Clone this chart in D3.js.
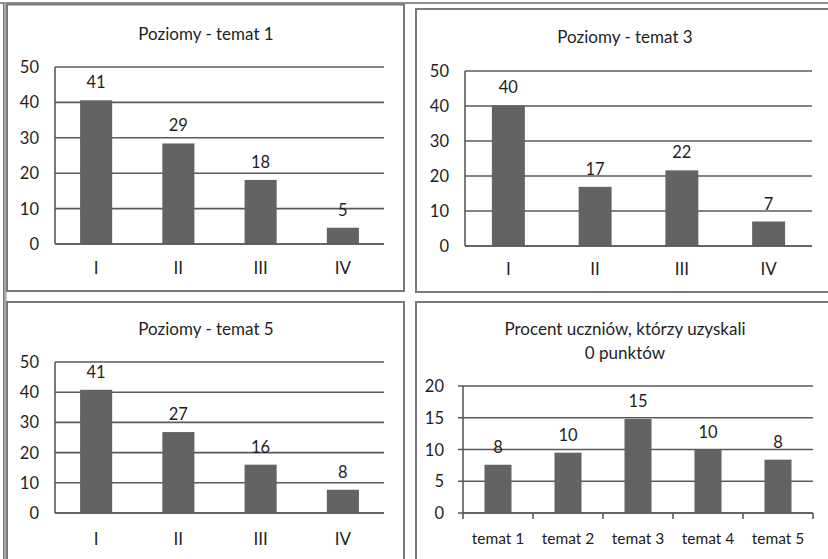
<!DOCTYPE html>
<html>
<head>
<meta charset="utf-8">
<script src="https://cdn.jsdelivr.net/npm/d3@7/dist/d3.min.js"></script>
<style>
  html, body { margin: 0; padding: 0; background: #fff; }
  svg { display: block; }
  text { font-family: Lato, "Open Sans", sans-serif; fill: #1e1e1e; }
</style>
</head>
<body>
<svg id="chart" width="828" height="559"></svg>
<script>
// ---- data ----
const levelCategories = ["I", "II", "III", "IV"];
const temat1Values = [40.6, 28.4, 18.1, 4.6];
const temat1Labels = ["41", "29", "18", "5"];
const temat3Values = [40.2, 16.9, 21.6, 7.0];
const temat3Labels = ["40", "17", "22", "7"];
const temat5Values = [40.8, 26.8, 16.0, 7.7];
const temat5Labels = ["41", "27", "16", "8"];
const topicCategories = ["temat 1", "temat 2", "temat 3", "temat 4", "temat 5"];
const zeroPointValues = [7.6, 9.5, 14.8, 10.0, 8.4];
const zeroPointLabels = ["8", "10", "15", "10", "8"];
const levelTicks = [0, 10, 20, 30, 40, 50];
const zeroTicks = [0, 5, 10, 15, 20];
const titles = ["Poziomy - temat 1", "Poziomy - temat 3", "Poziomy - temat 5",
                "Procent uczniów, którzy uzyskali", "0 punktów"];

const svg = d3.select("#chart");
const gridColor = "#5a5a5a";
const barColor = "#636363";
const frameColor = "#7a7a7a";

// page-level lines
svg.append("line").attr("x1", 0).attr("x2", 828).attr("y1", 3).attr("y2", 3)
  .attr("stroke", "#6a6a6a").attr("stroke-width", 1.5);
svg.append("line").attr("x1", 5).attr("x2", 5).attr("y1", 3).attr("y2", 559)
  .attr("stroke", "#a8a8a8").attr("stroke-width", 3);
svg.append("line").attr("x1", 3.5).attr("x2", 3.5).attr("y1", 3).attr("y2", 559)
  .attr("stroke", "#777").attr("stroke-width", 1);

function frame(x0, y0, x1, y1) {
  svg.append("rect").attr("x", x0).attr("y", y0)
    .attr("width", x1 - x0).attr("height", y1 - y0)
    .attr("fill", "none").attr("stroke", frameColor).attr("stroke-width", 2);
}
frame(7, 4.5, 404, 291);
frame(416, 9, 832, 292);
frame(7, 302, 404, 562);
frame(416, 302, 832, 562);

function panel(cfg) {
  const g = svg.append("g");
  const x = d3.scaleBand().domain(cfg.categories)
    .range([cfg.left, cfg.right])
    .paddingInner(cfg.pad).paddingOuter(cfg.pad / 2);
  const y = d3.scaleLinear().domain([0, cfg.max]).range([cfg.zeroY, cfg.topY]);

  // title
  cfg.title.forEach((t, i) => {
    g.append("text").attr("x", cfg.titleX).attr("y", cfg.titleY + i * 24)
      .attr("text-anchor", "middle").attr("dominant-baseline", "central")
      .attr("font-size", 17).text(t);
  });

  // gridlines
  g.selectAll(".grid").data(cfg.ticks).enter().append("line")
    .attr("x1", cfg.left - (cfg.tickOut ? 5 : 0)).attr("x2", cfg.right)
    .attr("y1", d => y(d)).attr("y2", d => y(d))
    .attr("stroke", gridColor).attr("stroke-width", 1.6);

  // y axis line
  g.append("line").attr("x1", cfg.left).attr("x2", cfg.left)
    .attr("y1", y(cfg.max)).attr("y2", y(0))
    .attr("stroke", gridColor).attr("stroke-width", 1.6);

  // y tick labels
  g.selectAll(".ylab").data(cfg.ticks).enter().append("text")
    .attr("x", cfg.left - cfg.yLabGap).attr("y", d => y(d))
    .attr("text-anchor", "end").attr("dominant-baseline", "central")
    .attr("font-size", 16.5).text(d => d);

  // bars
  g.selectAll(".bar").data(cfg.values).enter().append("rect")
    .attr("x", (d, i) => x(cfg.categories[i]))
    .attr("width", x.bandwidth())
    .attr("y", d => y(d)).attr("height", d => y(0) - y(d))
    .attr("fill", barColor);

  // x axis line on top of bars
  g.append("line").attr("x1", cfg.left).attr("x2", cfg.right)
    .attr("y1", y(0)).attr("y2", y(0))
    .attr("stroke", gridColor).attr("stroke-width", 1.6);

  if (cfg.tickOut) {
    const edges = cfg.categories.map(c => x(c) - x.step() * cfg.pad / 2).concat([cfg.right]);
    g.selectAll(".xtick").data(edges).enter().append("line")
      .attr("x1", d => d).attr("x2", d => d)
      .attr("y1", y(0)).attr("y2", y(0) + 6)
      .attr("stroke", gridColor).attr("stroke-width", 1.6);
  }

  // data labels
  g.selectAll(".dlab").data(cfg.values).enter().append("text")
    .attr("x", (d, i) => x(cfg.categories[i]) + x.bandwidth() / 2)
    .attr("y", d => y(d) - 12)
    .attr("text-anchor", "middle")
    .attr("font-size", 16.5).text((d, i) => cfg.labels[i]);

  // x labels
  g.selectAll(".xlab").data(cfg.categories).enter().append("text")
    .attr("x", d => x(d) + x.bandwidth() / 2).attr("y", cfg.xLabY)
    .attr("text-anchor", "middle").attr("dominant-baseline", "central")
    .attr("font-size", cfg.xLabSize).text(d => d);
}

panel({categories: levelCategories, values: temat1Values, labels: temat1Labels,
  ticks: levelTicks, max: 50, left: 55, right: 384, zeroY: 244, topY: 67, pad: 0.61,
  title: [titles[0]], titleX: 206, titleY: 33, xLabY: 267, yLabGap: 16, xLabSize: 17});
panel({categories: levelCategories, values: temat3Values, labels: temat3Labels,
  ticks: levelTicks, max: 50, left: 465, right: 812, zeroY: 246, topY: 71, pad: 0.62,
  title: [titles[1]], titleX: 625, titleY: 36, xLabY: 268, yLabGap: 16, xLabSize: 17});
panel({categories: levelCategories, values: temat5Values, labels: temat5Labels,
  ticks: levelTicks, max: 50, left: 55, right: 384, zeroY: 513, topY: 362, pad: 0.61,
  title: [titles[2]], titleX: 206, titleY: 328, xLabY: 538, yLabGap: 16, xLabSize: 17});
panel({categories: topicCategories, values: zeroPointValues, labels: zeroPointLabels,
  ticks: zeroTicks, max: 20, left: 463, right: 813, zeroY: 513, topY: 386, pad: 0.614,
  title: [titles[3], titles[4]], titleX: 625, titleY: 328, xLabY: 538, yLabGap: 19, xLabSize: 15.5, tickOut: true});
</script>
</body>
</html>
